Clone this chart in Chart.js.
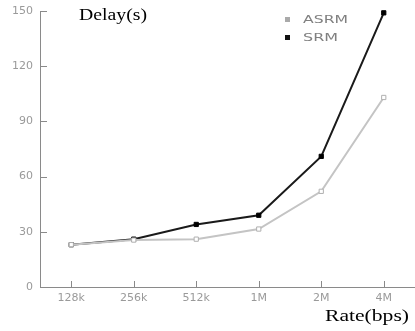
<!DOCTYPE html>
<html>
<head>
<meta charset="utf-8">
<script src="https://cdn.jsdelivr.net/npm/chart.js@4"></script>
<style>
  html, body { margin: 0; padding: 0; background: #fff; }
  #wrap { width: 415px; height: 331px; }
</style>
</head>
<body>
<div id="wrap"><canvas id="delayChart" width="415" height="331"></canvas></div>
<script>
const rates = ["128k", "256k", "512k", "1M", "2M", "4M"];
const asrmDelay = [23, 25.5, 26, 31.5, 52, 103];
const srmDelay = [23, 26, 34, 39, 71, 149];
const yTicks = [0, 30, 60, 90, 120, 150];

const axisColor = "#8a8a8a";
const labelColor = "#9a9a9a";

// stretched text, the scanned figure has wide lettering
const wideText = (ctx, text, x, y, width) => {
  const w = ctx.measureText(text).width;
  ctx.save();
  ctx.translate(x, y);
  ctx.scale(width / w, 1);
  ctx.fillText(text, 0, 0);
  ctx.restore();
};

// ticks drawn inward from the axis lines, like the original figure
const innerTicks = {
  id: "innerTicks",
  afterDraw(chart) {
    const { ctx, chartArea, scales } = chart;
    ctx.save();
    ctx.strokeStyle = axisColor;
    ctx.lineWidth = 1;
    ctx.beginPath();
    scales.y.ticks.forEach((t, i) => {
      const y = Math.round(scales.y.getPixelForTick(i)) + 0.5;
      ctx.moveTo(chartArea.left, y);
      ctx.lineTo(chartArea.left + 7, y);
    });
    scales.x.ticks.forEach((t, i) => {
      const x = Math.round(scales.x.getPixelForTick(i)) + 0.5;
      ctx.moveTo(x, chartArea.bottom);
      ctx.lineTo(x, chartArea.bottom - 6);
    });
    ctx.stroke();

    // axis titles
    ctx.fillStyle = "#000";
    ctx.font = "16px 'Liberation Serif'";
    ctx.textBaseline = "middle";
    ctx.textAlign = "left";
    wideText(ctx, "Delay(s)", 79, 16, 68);
    wideText(ctx, "Rate(bps)", 325, 317, 84);

    // legend
    ctx.font = "11px 'DejaVu Sans'";
    const legendWidths = [45, 35];
    chart.data.datasets.forEach((ds, i) => {
      const y = 19 + i * 18;
      ctx.fillStyle = i === 0 ? "#aaaaaa" : "#111";
      ctx.fillRect(285, y - 2, 5, 5);
      ctx.fillStyle = "#808080";
      wideText(ctx, ds.label, 303, y + 1, legendWidths[i]);
    });
    ctx.restore();
  },
};

const config = {
  type: "line",
  data: {
    labels: rates,
    datasets: [
      {
        label: "ASRM",
        data: asrmDelay,
        borderColor: "#c4c4c4",
        borderWidth: 2,
        pointStyle: "rect",
        pointRadius: 3,
        pointBackgroundColor: "#fff",
        pointBorderColor: "#b0b0b0",
        pointBorderWidth: 1,
        tension: 0,
        clip: false,
      },
      {
        label: "SRM",
        data: srmDelay,
        borderColor: "#1a1a1a",
        borderWidth: 2,
        pointStyle: "rect",
        pointRadius: 3,
        pointBackgroundColor: "#000",
        pointBorderColor: "#000",
        pointBorderWidth: 1,
        tension: 0,
        clip: false,
      },
    ],
  },
  options: {
    responsive: false,
    animation: false,
    layout: {
      autoPadding: false,
      padding: { top: 11, right: 0, left: 0, bottom: 0 },
    },
    scales: {
      x: {
        offset: true,
        grid: { display: false, drawTicks: false },
        border: { display: true, color: axisColor, width: 1 },
        ticks: {
          color: labelColor,
          font: { family: "DejaVu Sans", size: 11 },
          padding: 5,
          maxRotation: 0,
        },
        afterFit: (scale) => {
          scale.height = 44;
          scale.paddingLeft = 0;
          scale.paddingRight = 0;
        },
      },
      y: {
        min: 0,
        max: 150,
        grid: { display: false, drawTicks: false },
        border: { display: true, color: axisColor, width: 1 },
        ticks: {
          stepSize: 30,
          color: labelColor,
          font: { family: "DejaVu Sans", size: 11 },
          padding: 7,
          callback: (v) => (yTicks.includes(v) ? v : ""),
        },
        afterFit: (scale) => {
          scale.width = 40;
          scale.paddingTop = 0;
          scale.paddingBottom = 0;
        },
      },
    },
    plugins: {
      legend: { display: false },
      tooltip: { enabled: false },
    },
  },
  plugins: [innerTicks],
};

new Chart(document.getElementById("delayChart"), config);
</script>
</body>
</html>
